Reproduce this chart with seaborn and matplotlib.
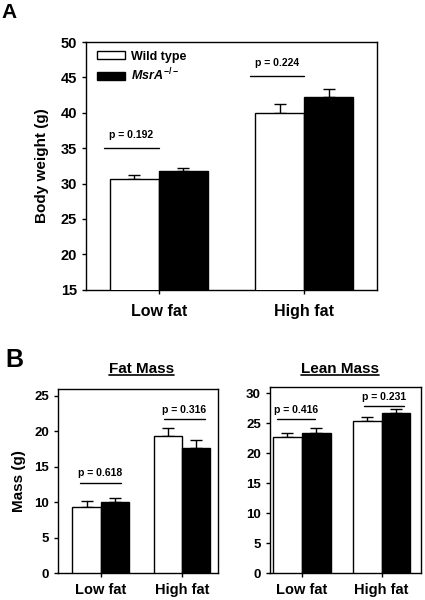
import numpy as np
import pandas as pd
import seaborn as sns
import matplotlib.pyplot as plt
from matplotlib.lines import Line2D

# ---- data (means and upper SEM) ----
diets = ['Low fat', 'High fat']
genotypes = ['Wild type', 'MsrA']

body_wt = [30.6, 40.0]
body_ko = [31.8, 42.2]
body_wt_err = [0.6, 1.3]
body_ko_err = [0.4, 1.1]
body_p = ['p = 0.192', 'p = 0.224']
body_p_line = [35.05, 45.2]
body_p_text = [36.9, 47.1]

fat_wt = [9.35, 19.35]
fat_ko = [10.0, 17.65]
fat_wt_err = [0.75, 1.15]
fat_ko_err = [0.6, 1.15]
fat_p = ['p = 0.618', 'p = 0.316']
fat_p_line = [12.7, 21.7]
fat_p_text = [14.1, 23.0]

lean_wt = [22.65, 25.3]
lean_ko = [23.4, 26.7]
lean_wt_err = [0.65, 0.7]
lean_ko_err = [0.7, 0.7]
lean_p = ['p = 0.416', 'p = 0.231']
lean_p_line = [25.7, 27.8]
lean_p_text = [27.1, 29.3]

sns.set_style('ticks')
plt.rcParams.update({
    'font.family': ['Liberation Sans', 'DejaVu Sans'],
    'font.weight': 'bold',
    'axes.labelweight': 'bold',
    'text.color': 'black',
    'axes.labelcolor': 'black',
    'xtick.color': 'black',
    'ytick.color': 'black',
    'axes.linewidth': 1.0,
    'xtick.major.width': 1.0,
    'ytick.major.width': 1.0,
    'xtick.major.size': 3,
    'ytick.major.size': 3,
    'xtick.direction': 'out',
    'ytick.direction': 'out',
    'mathtext.fontset': 'custom',
    'mathtext.it': 'Liberation Sans:italic:bold',
    'mathtext.rm': 'Liberation Sans:bold',
    'mathtext.bf': 'Liberation Sans:bold',
})


def make_df(wt, ko):
    return pd.DataFrame({
        'diet': diets * 2,
        'genotype': [genotypes[0]] * 2 + [genotypes[1]] * 2,
        'value': list(wt) + list(ko),
    })


def panel(ax, wt, ko, wt_err, ko_err, p_txt, p_line, p_text, spans,
          width, ylim, yticks, xlim, tick_fs, x_fs, x_pad, p_fs, legend=False):
    df = make_df(wt, ko)
    sns.barplot(data=df, x='diet', y='value', hue='genotype',
                palette=['white', 'black'], edgecolor='black', linewidth=1,
                errorbar=None, width=width, gap=0, ax=ax, legend=legend,
                zorder=3)
    # one-sided (upper) error bars, placed from the drawn bars
    for cont, err in zip(ax.containers, [wt_err, ko_err]):
        xs = [b.get_x() + b.get_width() / 2 for b in cont]
        ys = [b.get_height() for b in cont]
        ax.errorbar(xs, ys, yerr=[np.zeros(len(err)), err], fmt='none',
                    ecolor='black', elinewidth=1, capsize=4, capthick=1,
                    zorder=2)
    # p-value annotations
    for i, (t, yl, yt) in enumerate(zip(p_txt, p_line, p_text)):
        x0, x1 = i + spans[i][0], i + spans[i][1]
        ax.plot([x0, x1], [yl, yl], color='black', lw=1)
        ax.text((x0 + x1) / 2, yt, t, ha='center', va='center',
                fontsize=p_fs, fontweight='bold')
    ax.set_ylim(*ylim)
    ax.set_yticks(yticks)
    ax.set_xlim(*xlim)
    ax.set_xlabel('')
    ax.tick_params(axis='y', labelsize=tick_fs)
    ax.tick_params(axis='x', labelsize=x_fs, pad=x_pad)
    for lab in ax.get_xticklabels() + ax.get_yticklabels():
        lab.set_fontweight('bold')
    for s in ax.spines.values():
        s.set_visible(True)
        s.set_color('black')


fig = plt.figure(figsize=(4.25, 6), dpi=100)

axA = fig.add_axes([0.202, 0.517, 0.685, 0.413])
panel(axA, body_wt, body_ko, body_wt_err, body_ko_err, body_p, body_p_line,
      body_p_text, [(-0.375, 0.0), (-0.375, 0.0)], 0.675, (15, 50),
      range(15, 51, 5), (-0.5, 1.5), 10.5, 11.5, 7, 7.5, legend=True)
axA.set_ylabel('Body weight (g)', fontsize=11, fontweight='bold', labelpad=8)
leg = axA.legend(frameon=False, loc='upper left', bbox_to_anchor=(0.0, 1.01),
                 fontsize=9, handlelength=2.2, handleheight=0.6,
                 handletextpad=0.5, labelspacing=0.35)
for txt in leg.get_texts():
    if txt.get_text() == 'MsrA':
        txt.set_text(r'$\mathit{MsrA}^{-/-}$')
    txt.set_fontweight('bold')

axF = fig.add_axes([0.136, 0.045, 0.376, 0.307])
panel(axF, fat_wt, fat_ko, fat_wt_err, fat_ko_err, fat_p, fat_p_line,
      fat_p_text, [(-0.26, 0.25), (-0.22, 0.28)], 0.7, (0, 26),
      range(0, 26, 5), (-0.53, 1.44), 9.5, 10.5, 4, 7.5)
axF.set_ylabel('Mass (g)', fontsize=11, fontweight='bold', labelpad=6)

axL = fig.add_axes([0.635, 0.045, 0.355, 0.31])
panel(axL, lean_wt, lean_ko, lean_wt_err, lean_ko_err, lean_p, lean_p_line,
      lean_p_text, [(-0.31, 0.16), (-0.22, 0.28)], 0.72, (0, 31),
      range(0, 31, 5), (-0.4, 1.49), 9.5, 10.5, 4, 7.5)
axL.set_ylabel('')

fig.text(0.004, 0.979, 'A', fontsize=15, fontweight='bold', va='center')
fig.text(0.012, 0.4, 'B', fontsize=18, fontweight='bold', va='center')

titles = []
for x, t in [(0.333, 'Fat Mass'), (0.8, 'Lean Mass')]:
    titles.append(fig.text(x, 0.385, t, fontsize=11, fontweight='bold',
                           ha='center', va='center'))

# underline titles
fig.canvas.draw()
r = fig.canvas.get_renderer()
inv = fig.transFigure.inverted()
for t in titles:
    bb = t.get_window_extent(r)
    (x0, y0), (x1, y1) = inv.transform([(bb.x0, bb.y0), (bb.x1, bb.y1)])
    fig.add_artist(Line2D([x0, x1], [y0 + 0.002, y0 + 0.002], color='black',
                          lw=1.2, transform=fig.transFigure))

fig.savefig('out.png', dpi=100)
